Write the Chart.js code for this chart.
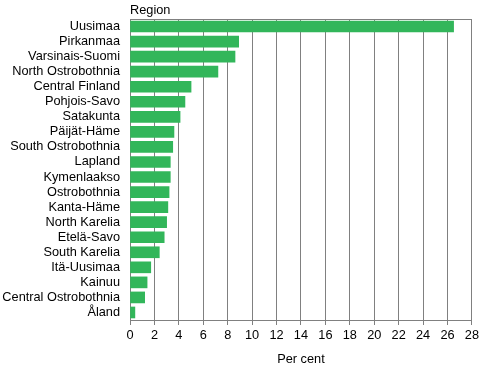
<!DOCTYPE html>
<html>
<head>
<meta charset="utf-8">
<script src="https://cdn.jsdelivr.net/npm/chart.js@4/dist/chart.umd.min.js"></script>
<style>
  html, body { margin: 0; padding: 0; background: #fff; }
  #wrap { width: 482px; height: 366px; }
</style>
</head>
<body>
<div id="wrap"><canvas id="regionChart"></canvas></div>
<script>
var regions = ['Uusimaa', 'Pirkanmaa', 'Varsinais-Suomi', 'North Ostrobothnia', 'Central Finland',
    'Pohjois-Savo', 'Satakunta', 'Päijät-Häme', 'South Ostrobothnia', 'Lapland', 'Kymenlaakso',
    'Ostrobothnia', 'Kanta-Häme', 'North Karelia', 'Etelä-Savo', 'South Karelia', 'Itä-Uusimaa',
    'Kainuu', 'Central Ostrobothnia', 'Åland'];
var perCent = [26.5, 8.9, 8.6, 7.2, 5.0, 4.5, 4.1, 3.6, 3.5, 3.3, 3.3,
    3.2, 3.1, 3.0, 2.8, 2.4, 1.7, 1.4, 1.2, 0.4];
var xMin = 0, xMax = 28, xStep = 2;

var gridGrey = '#808080';
var barGreen = 'rgb(50, 182, 90)';
var font = { family: '"Liberation Sans", Arial, sans-serif', size: 12.75 };

// "Region" caption above the plot + top frame line
var framePlugin = {
    id: 'frame',
    afterDraw: function (chart) {
        var ctx = chart.ctx, a = chart.chartArea;
        ctx.save();
        ctx.strokeStyle = gridGrey;
        ctx.lineWidth = 1;
        ctx.beginPath();
        ctx.moveTo(a.left, Math.round(a.top) + 0.5);
        ctx.lineTo(a.right, Math.round(a.top) + 0.5);
        ctx.stroke();
        ctx.fillStyle = '#000';
        ctx.font = font.size + 'px ' + font.family;
        ctx.textAlign = 'left';
        ctx.textBaseline = 'middle';
        ctx.fillText('Region', a.left, 10);
        ctx.restore();
    }
};

new Chart(document.getElementById('regionChart'), {
    type: 'bar',
    data: {
        labels: regions,
        datasets: [{
            label: 'Per cent',
            data: perCent,
            backgroundColor: barGreen,
            borderWidth: 0,
            barThickness: 11
        }]
    },
    options: {
        indexAxis: 'y',
        responsive: true,
        maintainAspectRatio: false,
        animation: false,
        layout: { padding: { top: 19, right: 6, left: 0, bottom: 0 } },
        plugins: {
            legend: { display: false },
            tooltip: { enabled: false }
        },
        scales: {
            x: {
                min: xMin,
                max: xMax,
                ticks: { stepSize: xStep, color: '#000', font: font, padding: 3, maxRotation: 0 },
                grid: { color: gridGrey, drawTicks: true, tickLength: 5, tickColor: gridGrey },
                border: { display: true, color: gridGrey },
                title: { display: true, text: 'Per cent', color: '#000', font: font, padding: { top: 4, bottom: -1 } },
                afterFit: function (scale) { scale.height = 46; }
            },
            y: {
                ticks: { color: '#000', font: font, padding: 10, autoSkip: false },
                grid: { display: false, drawTicks: false },
                border: { display: true, color: gridGrey },
                afterFit: function (scale) { scale.width = 130; }
            }
        }
    },
    plugins: [framePlugin]
});
</script>
</body>
</html>
